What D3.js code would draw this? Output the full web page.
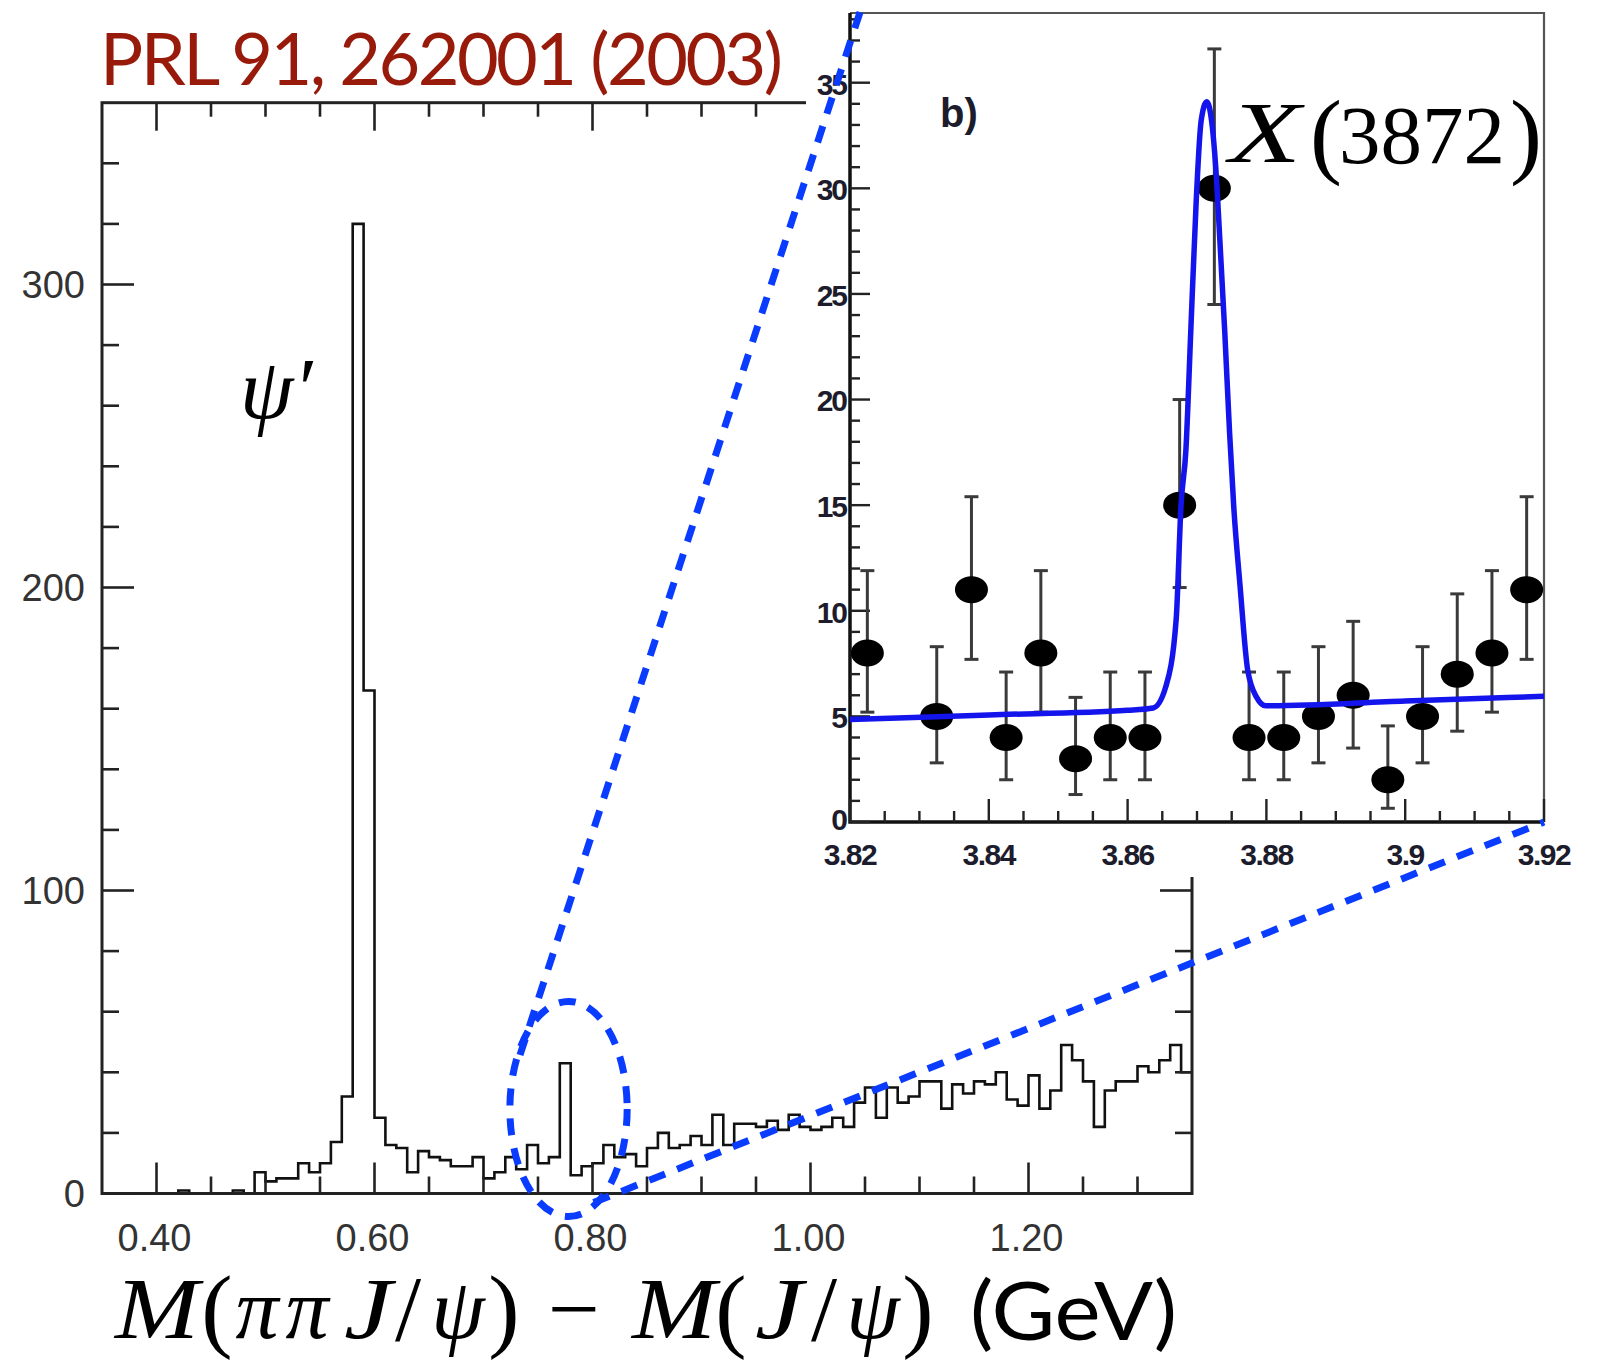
<!DOCTYPE html>
<html>
<head>
<meta charset="utf-8">
<script src="https://cdn.jsdelivr.net/npm/d3@7"></script>
<style>
  body { margin: 0; background: #fff; }
  svg { display: block; }
</style>
</head>
<body>
<div class="chart"></div>
<script>
// main histogram: events per 10 MeV bin, starting at 0.35 GeV
const histStart = 0.35;
const histBinWidth = 0.01;
const histCounts = [
  0, 0, 0, 0, 0, 0, 0, 1, 0, 0,
  0, 0, 1, 0, 7, 4, 5, 5, 10, 7,
  10, 17, 32, 320, 166, 25, 16, 15, 7, 14,
  12, 11, 9, 9, 12, 5, 7, 12, 8, 16,
  10, 12, 43, 6, 9, 10, 16, 12, 13, 9,
  15, 20, 15, 16, 19, 16, 26, 16, 23, 23,
  22, 24, 21, 26, 22, 21, 22, 25, 22, 30,
  35, 25, 35, 30, 32, 37, 37, 28, 36, 33,
  37, 36, 40, 31, 29, 39, 28, 34, 49, 44,
  37, 22, 34, 37, 37, 42, 40, 44, 49, 40
];
const mainXTicks = [0.4, 0.6, 0.8, 1.0, 1.2];
const mainXTickLabels = ["0.40", "0.60", "0.80", "1.00", "1.20"];
const mainYTicks = [0, 100, 200, 300];

// inset: M(pi pi J/psi) in GeV, 5 MeV bins
const insetMass = [3.8225, 3.8325, 3.8375, 3.8425, 3.8475, 3.8525, 3.8575, 3.8625, 3.8675, 3.8725,
  3.8775, 3.8825, 3.8875, 3.8925, 3.8975, 3.9025, 3.9075, 3.9125, 3.9175];
const insetCounts = [8, 5, 11, 4, 8, 3, 4, 4, 15, 30, 4, 4, 5, 6, 2, 5, 7, 8, 11];
const insetErrLow = [5.2, 2.8, 7.7, 2.0, 5.2, 1.3, 2.0, 2.0, 11.1, 24.5, 2.0, 2.0, 2.8, 3.5, 0.65, 2.8, 4.3, 5.2, 7.7];
const insetErrHigh = [11.9, 8.3, 15.4, 7.1, 11.9, 5.9, 7.1, 7.1, 20.0, 36.6, 7.1, 7.1, 8.3, 9.5, 4.55, 8.3, 10.8, 11.9, 15.4];

// fit curve
const fitMass = [3.82, 3.84, 3.86, 3.8637, 3.8655, 3.867, 3.8677, 3.8684, 3.8691, 3.8699, 3.8706, 3.8714,
  3.8721, 3.8727, 3.8733, 3.874, 3.8747, 3.8753, 3.8762, 3.8773, 3.8786, 3.8799, 3.90, 3.92];
const fitCounts = [4.85, 5.07, 5.29, 5.4, 6.4, 9.6, 15, 17.6, 23.2, 29.5, 33.2, 34.1,
  33.2, 31.0, 27.5, 23.2, 18.4, 14.9, 11.2, 7.2, 5.9, 5.5, 5.73, 5.95];

const insetXTicks = [3.82, 3.84, 3.86, 3.88, 3.90, 3.92];
const insetXTickLabels = ["3.82", "3.84", "3.86", "3.88", "3.9", "3.92"];
const insetYTicks = [0, 5, 10, 15, 20, 25, 30, 35];

const W = 1602, H = 1361;
const blueFit = "#1414ec", blueDash = "#0a3cff";

const svg = d3.select(".chart").append("svg")
  .attr("width", W).attr("height", H)
  .style("background", "#fff");

// ---------- main plot ----------
const x = d3.scaleLinear().domain([0.35, 1.35]).range([102, 1192]);
const y = d3.scaleLinear().domain([0, 360]).range([1193.5, 102.7]);

const main = svg.append("g");

const histPts = histCounts.map((c, i) => [histStart + i * histBinWidth, c]);
histPts.push([histStart + histCounts.length * histBinWidth, histCounts[histCounts.length - 1]]);

main.append("path")
  .datum(histPts)
  .attr("d", d3.line().x(d => x(d[0])).y(d => y(d[1])).curve(d3.curveStepAfter))
  .attr("fill", "none")
  .attr("stroke", "#111")
  .attr("stroke-width", 2.6);

main.append("rect")
  .attr("x", x(0.35)).attr("y", y(360))
  .attr("width", x(1.35) - x(0.35)).attr("height", y(0) - y(360))
  .attr("fill", "none").attr("stroke", "#222").attr("stroke-width", 3);

const xMinor = d3.range(0.4, 1.349, 0.05).filter(v => !mainXTicks.some(t => Math.abs(t - v) < 1e-6));
const yMinor = d3.range(20, 360, 20).filter(v => v % 100 !== 0);

function hTicks(vals, y0, len) {
  main.append("g").selectAll("line").data(vals).enter().append("line")
    .attr("x1", d => x(d)).attr("x2", d => x(d))
    .attr("y1", y0).attr("y2", y0 + len)
    .attr("stroke", "#222").attr("stroke-width", 2.6);
}
function vTicks(vals, x0, len) {
  main.append("g").selectAll("line").data(vals).enter().append("line")
    .attr("y1", d => y(d)).attr("y2", d => y(d))
    .attr("x1", x0).attr("x2", x0 + len)
    .attr("stroke", "#222").attr("stroke-width", 2.6);
}
hTicks(mainXTicks, y(0), -31);
hTicks(xMinor, y(0), -17);
hTicks(mainXTicks, y(360), 28);
hTicks(xMinor, y(360), 14);
vTicks(mainYTicks, x(0.35), 32);
vTicks(yMinor, x(0.35), 17);
vTicks(mainYTicks, x(1.35), -32);
vTicks(yMinor, x(1.35), -17);

main.append("g").selectAll("text").data(mainYTicks).enter().append("text")
  .attr("x", 85).attr("y", d => y(d)).attr("dy", "0.36em")
  .attr("text-anchor", "end")
  .style("font", "38px 'Liberation Sans', Arial, sans-serif")
  .attr("fill", "#333")
  .text(d => d);

main.append("g").selectAll("text").data(mainXTicks).enter().append("text")
  .attr("x", d => x(d) - 2).attr("y", 1251)
  .attr("text-anchor", "middle")
  .style("font", "38px 'Liberation Sans', Arial, sans-serif")
  .attr("fill", "#333")
  .text((d, i) => mainXTickLabels[i]);

// psi' label
main.append("text")
  .attr("x", 240).attr("y", 418)
  .style("font", "italic 86px 'Liberation Serif', serif")
  .text("ψ′");

// ---------- inset ----------
svg.append("rect").attr("x", 806).attr("y", 0).attr("width", W - 806).attr("height", 877).attr("fill", "#fff");

const ix = d3.scaleLinear().domain([3.82, 3.92]).range([850, 1544]);
const iy = d3.scaleLinear().domain([0, 38.3]).range([822, 13]);
const inset = svg.append("g");

inset.append("path")
  .attr("d", `M${ix(3.82)},${iy(38.3)}H${ix(3.92)}V${iy(0)}`)
  .attr("fill", "none").attr("stroke", "#555").attr("stroke-width", 2.2);
inset.append("path")
  .attr("d", `M${ix(3.82)},${iy(38.3)}V${iy(0)}H${ix(3.92)}`)
  .attr("fill", "none").attr("stroke", "#111").attr("stroke-width", 3.5);

const ixMinor = d3.range(3.825, 3.919, 0.005).filter(v => !insetXTicks.some(t => Math.abs(t - v) < 1e-6));
const iyMinor = d3.range(1, 39, 1).filter(v => v % 5 !== 0);

inset.append("g").selectAll("line").data(insetXTicks.concat(ixMinor)).enter().append("line")
  .attr("x1", d => ix(d)).attr("x2", d => ix(d))
  .attr("y1", iy(0)).attr("y2", (d, i) => iy(0) - (i < insetXTicks.length ? 23 : 11))
  .attr("stroke", "#222").attr("stroke-width", 2.4);
inset.append("g").selectAll("line").data(insetYTicks.concat(iyMinor)).enter().append("line")
  .attr("y1", d => iy(d)).attr("y2", d => iy(d))
  .attr("x1", ix(3.82)).attr("x2", (d, i) => ix(3.82) + (i < insetYTicks.length ? 20 : 10))
  .attr("stroke", "#222").attr("stroke-width", 2.4);

const tickFont = "bold 30px 'Liberation Sans', Arial, sans-serif";
inset.append("g").selectAll("text").data(insetXTicks).enter().append("text")
  .attr("x", d => ix(d)).attr("y", 865)
  .attr("text-anchor", "middle")
  .style("font", tickFont).style("letter-spacing", "-1.5px")
  .attr("fill", "#1c1c2c")
  .text((d, i) => insetXTickLabels[i]);
inset.append("g").selectAll("text").data(insetYTicks).enter().append("text")
  .attr("x", 846).attr("y", d => iy(d) - (d === 0 ? 3 : -1)).attr("dy", "0.36em")
  .attr("text-anchor", "end")
  .style("font", tickFont).style("letter-spacing", "-2px")
  .attr("fill", "#1c1c2c")
  .text(d => d);

inset.append("text")
  .attr("x", 940).attr("y", 127)
  .style("font", "bold 40px 'Liberation Sans', Arial, sans-serif")
  .attr("fill", "#1c1c2c")
  .text("b)");

// error bars
const eb = inset.append("g").attr("stroke", "#3a3a3a").attr("stroke-width", 3);
insetMass.forEach((m, i) => {
  eb.append("line").attr("x1", ix(m)).attr("x2", ix(m)).attr("y1", iy(insetErrLow[i])).attr("y2", iy(insetErrHigh[i]));
  [insetErrLow[i], insetErrHigh[i]].forEach(v => {
    eb.append("line").attr("x1", ix(m) - 7).attr("x2", ix(m) + 7).attr("y1", iy(v)).attr("y2", iy(v));
  });
});

inset.append("g").selectAll("ellipse").data(insetMass).enter().append("ellipse")
  .attr("cx", d => ix(d)).attr("cy", (d, i) => iy(insetCounts[i]))
  .attr("rx", 16.5).attr("ry", 13.5)
  .attr("fill", "#000");

inset.append("path")
  .datum(fitMass.map((m, i) => [m, fitCounts[i]]))
  .attr("d", d3.line().x(d => ix(d[0])).y(d => iy(d[1])).curve(d3.curveMonotoneX))
  .attr("fill", "none").attr("stroke", blueFit).attr("stroke-width", 5.5)
  .attr("stroke-linejoin", "round");

// X(3872) label
const serif = "'Liberation Serif', 'Times New Roman', serif";
inset.append("text").attr("x", 1229).attr("y", 161.5)
  .attr("textLength", 72).attr("lengthAdjust", "spacingAndGlyphs")
  .style("font", `italic 86px ${serif}`).text("X");
inset.append("text").attr("x", 1310).attr("y", 166)
  .style("font", `96px ${serif}`).text("(");
inset.append("text").attr("x", 1339).attr("y", 163)
  .attr("textLength", 166).attr("lengthAdjust", "spacingAndGlyphs")
  .style("font", `82px ${serif}`).text("3872");
inset.append("text").attr("x", 1510).attr("y", 166)
  .style("font", `96px ${serif}`).text(")");

// ---------- zoom annotation ----------
const ann = svg.append("g").attr("fill", "none").attr("stroke", blueDash)
  .attr("stroke-width", 7).attr("stroke-dasharray", "17 13");
ann.append("ellipse")
  .attr("cx", x(0.778)).attr("cy", y(27.9))
  .attr("rx", x(0.8318) - x(0.778)).attr("ry", y(0) - y(35.5));
ann.append("line")
  .attr("x1", x(0.7335)).attr("y1", y(45.7))
  .attr("x2", ix(3.8217)).attr("y2", iy(38.6));
ann.append("line")
  .attr("x1", x(0.801)).attr("y1", y(-3))
  .attr("x2", ix(3.92)).attr("y2", iy(0));

// ---------- title and axis title ----------
const titleStr = "PRL 91, 262001 (2003)";
const title = svg.append("text")
  .attr("x", 100).attr("y", 85)
  .style("font", "72px Lato, 'Open Sans', sans-serif")
  .attr("fill", "#971a0b")
  .text(titleStr);
const natural = title.node().getComputedTextLength();
title.style("letter-spacing", ((683 - natural) / (titleStr.length - 1)) + "px");

const xTitleParts = [
  { t: "M", cx: 157, it: true, fs: 86, w: 84 },
  { t: "(", cx: 217, it: false, fs: 94 },
  { t: "π", cx: 257, it: true, fs: 86 },
  { t: "π", cx: 307, it: true, fs: 86 },
  { t: "J", cx: 368, it: true, fs: 86, w: 48 },
  { t: "/", cx: 408, it: false, fs: 94 },
  { t: "ψ", cx: 458, it: true, fs: 86 },
  { t: ")", cx: 504, it: false, fs: 94 },
  { t: "−", cx: 574, it: false, fs: 86, w: 52 },
  { t: "M", cx: 674, it: true, fs: 86, w: 84 },
  { t: "(", cx: 731, it: false, fs: 94 },
  { t: "J", cx: 779, it: true, fs: 86, w: 48 },
  { t: "/", cx: 824, it: false, fs: 94 },
  { t: "ψ", cx: 873, it: true, fs: 86 },
  { t: ")", cx: 918, it: false, fs: 94 }
];
const xt = svg.append("g");
xTitleParts.forEach(p => {
  const t = xt.append("text")
    .attr("x", p.cx).attr("y", p.fs > 90 ? 1340 : 1338)
    .attr("text-anchor", "middle")
    .style("font", `${p.it ? "italic " : ""}${p.fs}px ${serif}`)
    .text(p.t);
  if (p.w) t.attr("textLength", p.w).attr("lengthAdjust", "spacingAndGlyphs");
});
xt.append("text")
  .attr("x", 970).attr("y", 1340)
  .attr("textLength", 207).attr("lengthAdjust", "spacingAndGlyphs")
  .style("font", "82px Lato, 'Open Sans', sans-serif")
  .text("(GeV)");
</script>
</body>
</html>
